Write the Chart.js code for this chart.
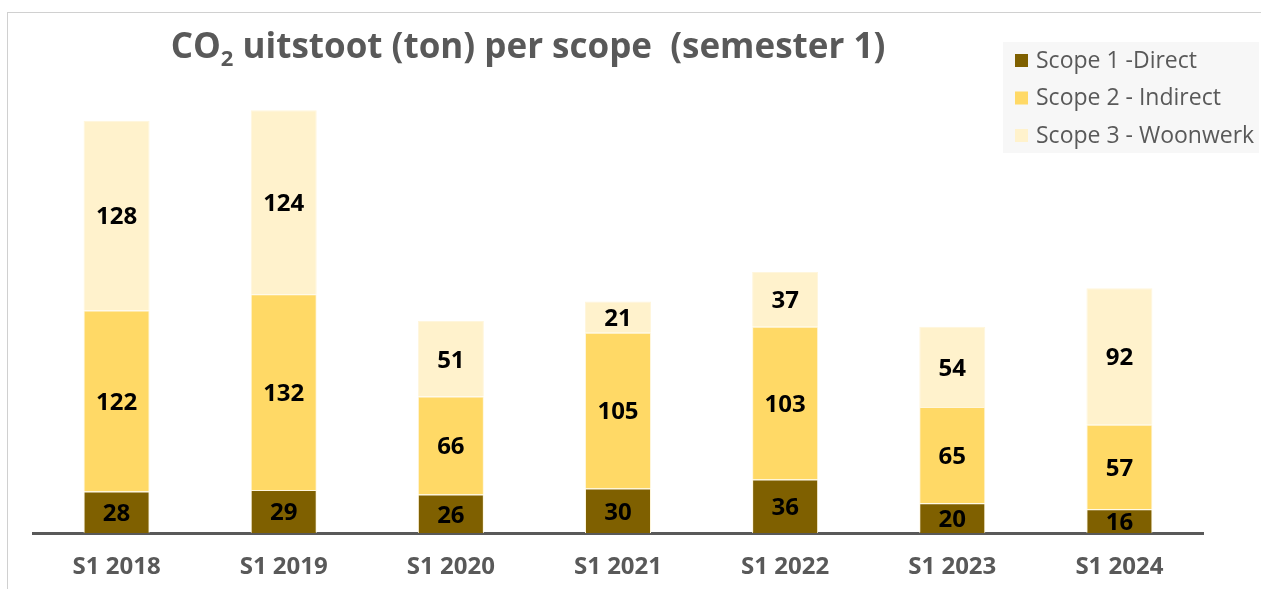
<!DOCTYPE html>
<html>
<head>
<meta charset="utf-8">
<script src="https://cdn.jsdelivr.net/npm/chart.js@4"></script>
<style>
  html, body { margin: 0; padding: 0; background: #fff; }
  #wrap { width: 1261px; height: 589px; position: relative; }
</style>
</head>
<body>
<div id="wrap"><canvas id="ch_co2"></canvas></div>
<script>
/* ── data ─────────────────────────────────────────────────────── */
const categories = ['S1 2018', 'S1 2019', 'S1 2020', 'S1 2021', 'S1 2022', 'S1 2023', 'S1 2024'];
const scope1 = [28, 29, 26, 30, 36, 20, 16];
const scope2 = [122, 132, 66, 105, 103, 65, 57];
const scope3 = [128, 124, 51, 21, 37, 54, 92];
const seriesNames = ['Scope 1 -Direct', 'Scope 2 - Indirect', 'Scope 3 - Woonwerk'];
const seriesColors = ['#7F6000', '#FFD966', '#FFF2CC'];

const FONT = '"Open Sans", "Noto Sans", sans-serif';
const GREY = '#595959';

/* ── frame + title with subscript ──────────────────────────────── */
const frameTitle = {
  id: 'frameTitle',
  beforeDraw(chart) {
    const ctx = chart.ctx;
    ctx.save();
    ctx.strokeStyle = '#d0d0d0';
    ctx.lineWidth = 1;
    ctx.strokeRect(7.5, 12.5, 1300, 700);

    const big = 'bold 35px ' + FONT, small = 'bold 22px ' + FONT;
    const parts = [['CO', big, 0], ['2', small, 8], [' uitstoot (ton) per scope  (semester 1)', big, 0]];
    let w = 0;
    parts.forEach(p => { ctx.font = p[1]; w += ctx.measureText(p[0]).width; });
    let x = 528 - w / 2;
    ctx.fillStyle = GREY;
    ctx.textBaseline = 'alphabetic';
    parts.forEach(p => {
      ctx.font = p[1];
      ctx.fillText(p[0], x, 58 + p[2]);
      x += ctx.measureText(p[0]).width;
    });
    ctx.restore();
  }
};

/* ── legend box, top right ─────────────────────────────────────── */
const legendBox = {
  id: 'legendBox',
  afterDraw(chart) {
    const ctx = chart.ctx;
    ctx.save();
    ctx.fillStyle = '#F7F7F7';
    ctx.fillRect(1003, 42, 256, 111);
    ctx.font = '23px ' + FONT;
    ctx.textBaseline = 'middle';
    seriesNames.forEach((name, i) => {
      const y = 60 + i * 37.5;
      ctx.fillStyle = seriesColors[i];
      ctx.fillRect(1015, y - 6, 13, 13);
      ctx.fillStyle = GREY;
      ctx.fillText(name, 1036, y + 1);
    });
    ctx.restore();
  }
};

/* ── value labels centred in each segment ──────────────────────── */
const segLabels = {
  id: 'segLabels',
  afterDatasetsDraw(chart) {
    const ctx = chart.ctx;
    ctx.save();
    ctx.font = 'bold 24px ' + FONT;
    ctx.fillStyle = '#000';
    ctx.textAlign = 'center';
    ctx.textBaseline = 'middle';
    chart.data.datasets.forEach((ds, di) => {
      chart.getDatasetMeta(di).data.forEach((bar, i) => {
        const y = (bar.y + bar.base) / 2;
        ctx.fillText(String(ds.data[i]), bar.x, y + 2);
      });
    });
    ctx.restore();
  }
};

const datasets = [scope1, scope2, scope3].map((d, i) => ({
  label: seriesNames[i],
  data: d,
  backgroundColor: seriesColors[i],
  borderColor: '#FFF6DC',
  borderWidth: 1,
  barPercentage: 0.79,
  categoryPercentage: 0.5
}));

new Chart(document.getElementById('ch_co2').getContext('2d'), {
  type: 'bar',
  data: { labels: categories, datasets },
  plugins: [frameTitle, legendBox, segLabels],
  options: {
    responsive: true,
    maintainAspectRatio: false,
    animation: false,
    layout: { padding: { left: 33, right: 58, top: 88, bottom: 0 } },
    plugins: { legend: { display: false }, title: { display: false }, tooltip: { enabled: false } },
    scales: {
      x: {
        stacked: true,
        grid: { display: false, drawTicks: false },
        border: { display: true, color: GREY, width: 3 },
        ticks: { color: GREY, font: { family: FONT, size: 24, weight: 'bold' }, padding: 20 },
        afterFit: s => { s.height = 56; }
      },
      y: { stacked: true, display: false, min: 0, max: 300 }
    }
  }
});
</script>
</body>
</html>
